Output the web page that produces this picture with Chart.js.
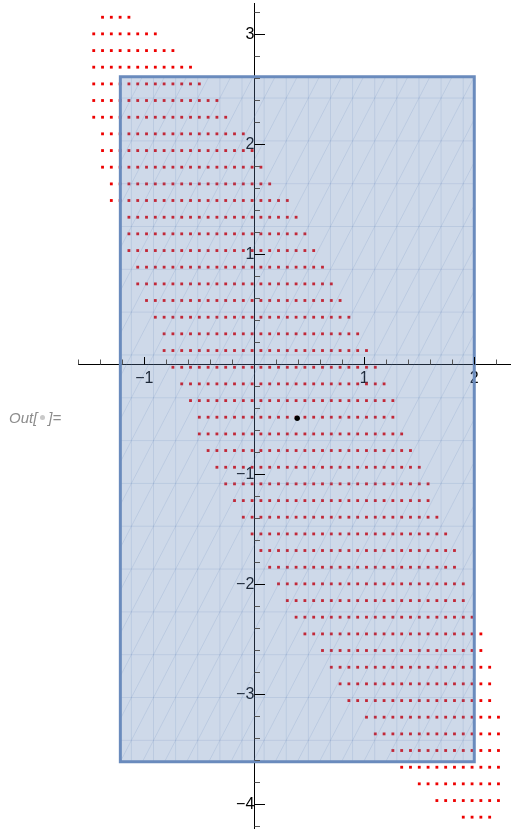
<!DOCTYPE html>
<html>
<head>
<meta charset="utf-8">
<script src="https://cdn.jsdelivr.net/npm/chart.js@4/dist/chart.umd.min.js"></script>
<style>
  body { margin: 0; background: #fff; }
  #wrap { position: relative; width: 511px; height: 831px; }
  #plot { position: absolute; left: 0; top: 0; }
  .out { position: absolute; left: 9px; top: 409px; font: italic 15px "Liberation Sans", Arial, sans-serif;
         line-height: 18px; color: #8c8c8c; white-space: nowrap; }
  .out .dot { display: inline-block; width: 5px; height: 5px; border-radius: 50%; background: #c9c9c9;
              margin: 0 3px; vertical-align: 3px; }
</style>
</head>
<body>
<div id="wrap">
  <canvas id="plot" width="511" height="831"></canvas>
  <div class="out">Out[<span class="dot"></span>]=</div>
</div>
<script>
// sample grid: column x values and row y values
const colX = [-1.46, -1.38, -1.30, -1.22, -1.14, -1.06, -0.98, -0.90, -0.82, -0.74, -0.66, -0.58,
  -0.50, -0.42, -0.34, -0.26, -0.18, -0.10, -0.02, 0.06, 0.14, 0.22, 0.30, 0.38, 0.46, 0.54,
  0.62, 0.70, 0.78, 0.86, 0.94, 1.02, 1.10, 1.18, 1.26, 1.34, 1.42, 1.50, 1.58, 1.66, 1.74,
  1.82, 1.90, 1.98, 2.06, 2.14, 2.22];
const rowY = [3.155, 3.004, 2.852, 2.701, 2.549, 2.398, 2.246, 2.095, 1.943, 1.792, 1.640, 1.489,
  1.337, 1.186, 1.034, 0.883, 0.731, 0.580, 0.428, 0.277, 0.125, -0.027, -0.178, -0.330, -0.481,
  -0.633, -0.784, -0.936, -1.087, -1.239, -1.390, -1.542, -1.693, -1.845, -1.996, -2.148, -2.299,
  -2.451, -2.602, -2.754, -2.905, -3.057, -3.208, -3.360, -3.511, -3.663, -3.814, -3.966, -4.117];
// first / last occupied column in each row
const rowFirst = [1, 0, 0, 0, 0, 0, 0, 1, 1, 1, 2, 2, 4, 4, 4, 5, 5, 6, 7, 8, 8, 9, 10, 11, 12,
  12, 13, 14, 15, 16, 17, 18, 19, 20, 21, 22, 23, 24, 26, 27, 28, 29, 31, 32, 34, 35, 37, 39, 42];
const rowLast = [4, 7, 9, 11, 12, 14, 15, 17, 18, 19, 20, 22, 23, 24, 25, 26, 27, 28, 29, 30, 31,
  32, 33, 34, 34, 35, 36, 37, 38, 38, 39, 40, 41, 41, 42, 42, 43, 44, 44, 45, 45, 45, 46, 46, 46,
  46, 46, 46, 45];

// region box and the marked point
const boxX = [-1.218, 2.0];
const boxY = [-3.613, 2.615];
const markX = [0.39];
const markY = [-0.49];

// labelled axis ticks
const xMajor = [-1, 1, 2];
const yMajor = [-4, -3, -2, -1, 1, 2, 3];

const gridPoints = [];
rowY.forEach((y, r) => {
  colX.slice(rowFirst[r], rowLast[r] + 1).forEach(x => gridPoints.push({x, y}));
});

const fmt = v => (v < 0 ? '\u2212' + (-v) : String(v));

// triangulated mesh inside the box, drawn right after its fill
const boxMesh = {
  id: 'boxMesh',
  beforeDatasetDraw(chart, args) {
    if (args.index !== 1) return;
    const {ctx, scales: {x, y}} = chart;
    const left = x.getPixelForValue(boxX[0]), right = x.getPixelForValue(boxX[1]);
    const top = y.getPixelForValue(boxY[1]), bottom = y.getPixelForValue(boxY[0]);
    const n = 16, w = (right - left) / n, h = (bottom - top) / n;
    ctx.save();
    ctx.beginPath();
    ctx.rect(left, top, right - left, bottom - top);
    ctx.clip();
    ctx.strokeStyle = 'rgba(94,129,181,0.17)';
    ctx.lineWidth = 1;
    ctx.beginPath();
    for (let k = 0; k < n; k++) {
      const px = left + w * (k + 0.5);
      ctx.moveTo(px, top); ctx.lineTo(px, bottom);
      const py = top + h * (k + 0.5);
      ctx.moveTo(left, py); ctx.lineTo(right, py);
    }
    for (let s = -3; s <= 2 * n + 3; s++) {
      const px = left + w * (s + 0.5), py = top + h * 0.5;
      ctx.moveTo(px - w * n * 2, py + h * n * 2);
      ctx.lineTo(px + w * n * 2, py - h * n * 2);
    }
    ctx.stroke();
    ctx.restore();
  }
};

// tick marks: x ticks point up, y ticks point right
const axisTicks = {
  id: 'axisTicks',
  afterDraw(chart) {
    const {ctx, scales: {x, y}} = chart;
    const x0 = Math.round(x.getPixelForValue(0)) + 0.5;
    const y0 = Math.round(y.getPixelForValue(0)) + 0.5;
    const minor = (lo, hi) => {
      const out = [];
      for (let k = Math.ceil(lo / 0.2); k <= Math.floor(hi / 0.2); k++) if (k % 5) out.push(k * 0.2);
      return out;
    };
    ctx.save();
    ctx.lineWidth = 1;
    ctx.strokeStyle = '#555';
    ctx.beginPath();
    minor(x.min, x.max).forEach(v => {
      const px = Math.round(x.getPixelForValue(v)) + 0.5;
      ctx.moveTo(px, y0); ctx.lineTo(px, y0 - 5);
    });
    minor(y.min, y.max).forEach(v => {
      const py = Math.round(y.getPixelForValue(v)) + 0.5;
      ctx.moveTo(x0, py); ctx.lineTo(x0 + 5.5, py);
    });
    ctx.stroke();
    ctx.strokeStyle = '#000';
    ctx.beginPath();
    xMajor.forEach(v => {
      const px = Math.round(x.getPixelForValue(v)) + 0.5;
      ctx.moveTo(px, y0); ctx.lineTo(px, y0 - 7.5);
    });
    yMajor.forEach(v => {
      const py = Math.round(y.getPixelForValue(v)) + 0.5;
      ctx.moveTo(x0, py); ctx.lineTo(x0 + 10.5, py);
    });
    ctx.stroke();
    ctx.restore();
  }
};

// axes sit on the origin, so their labels should not push the plot area in
const noPad = s => { s.paddingTop = s.paddingBottom = s.paddingLeft = s.paddingRight = 0; };

Chart.defaults.font.family = '"Liberation Sans", Arial, sans-serif';

new Chart(document.getElementById('plot').getContext('2d'), {
  type: 'scatter',
  data: {
    datasets: [
      {
        data: gridPoints,
        order: 3,
        pointStyle: 'rect',
        pointRadius: 2,
        borderWidth: 0,
        backgroundColor: '#ee0000',
        clip: false
      },
      {
        data: [
          {x: boxX[0], y: boxY[1]}, {x: boxX[1], y: boxY[1]},
          {x: boxX[1], y: boxY[0]}, {x: boxX[0], y: boxY[0]}, {x: boxX[0], y: boxY[1]}
        ],
        order: 2,
        showLine: true,
        fill: 'shape',
        backgroundColor: 'rgba(94,129,181,0.3)',
        borderColor: '#6a8bbd',
        borderWidth: 3,
        borderCapStyle: 'square',
        borderJoinStyle: 'miter',
        pointRadius: 0,
        tension: 0,
        clip: false
      },
      {
        data: markX.map((x, i) => ({x, y: markY[i]})),
        order: 1,
        pointRadius: 2.7,
        borderWidth: 0,
        backgroundColor: '#000'
      }
    ]
  },
  options: {
    responsive: false,
    animation: false,
    devicePixelRatio: 1,
    events: [],
    layout: {autoPadding: false, padding: {left: 78, right: 0, top: 3, bottom: 3}},
    plugins: {legend: {display: false}, tooltip: {enabled: false}},
    scales: {
      x: {
        type: 'linear', min: -1.603, max: 2.334, position: {y: 0}, z: 1,
        grid: {display: false, drawTicks: false},
        border: {display: true, color: '#000', width: 1},
        afterBuildTicks: s => { s.ticks = xMajor.map(v => ({value: v})); },
        afterFit: noPad,
        ticks: {callback: fmt, color: '#000', font: {size: 16}, padding: 5, maxRotation: 0, autoSkip: false}
      },
      y: {
        type: 'linear', min: -4.2155, max: 3.2845, position: {x: 0}, z: 1,
        grid: {display: false, drawTicks: false},
        border: {display: true, color: '#000', width: 1},
        afterBuildTicks: s => { s.ticks = yMajor.map(v => ({value: v})); },
        afterFit: noPad,
        ticks: {callback: fmt, color: '#000', font: {size: 16}, padding: 11, autoSkip: false}
      }
    }
  },
  plugins: [boxMesh, axisTicks]
});
</script>
</body>
</html>
